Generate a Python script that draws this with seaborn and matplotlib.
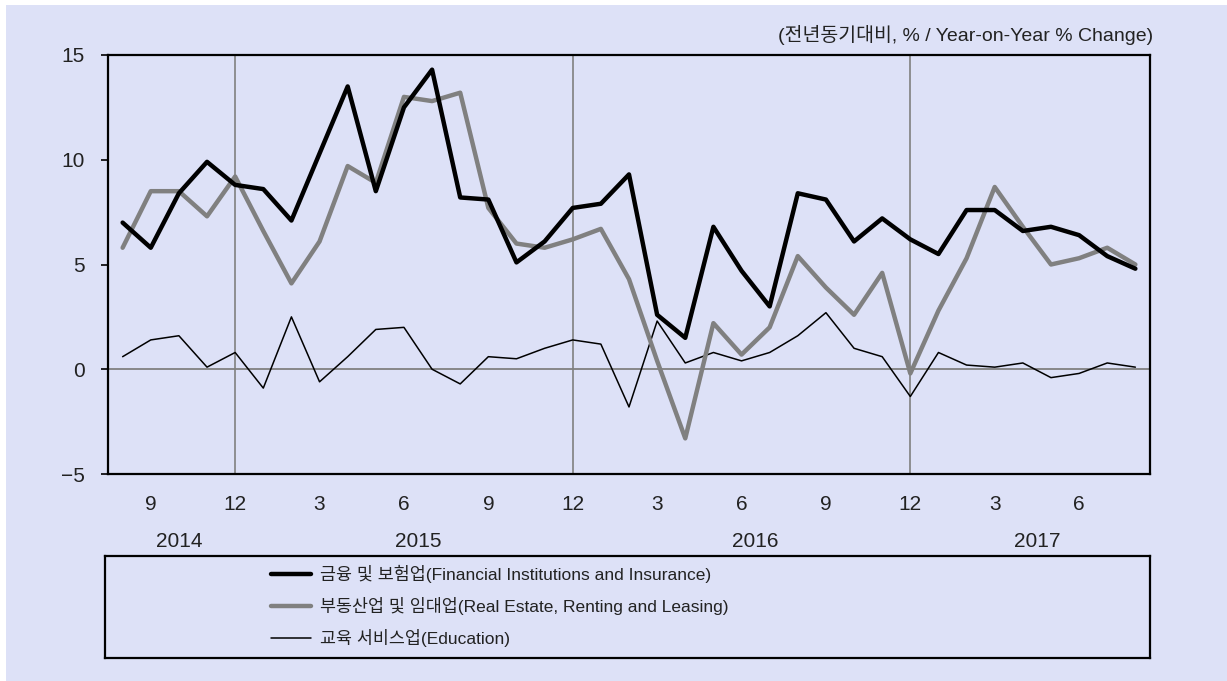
import numpy as np
import pandas as pd
import matplotlib
matplotlib.use("Agg")
import matplotlib.pyplot as plt
import seaborn as sns
from matplotlib.patches import Rectangle
import matplotlib.transforms as mtransforms

# monthly, Aug 2014 .. Aug 2017
months = pd.period_range("2014-08", "2017-08", freq="M")

finance = [7.0, 5.8, 8.4, 9.9, 8.8, 8.6, 7.1, 10.3, 13.5, 8.5, 12.5, 14.3, 8.2,
           8.1, 5.1, 6.1, 7.7, 7.9, 9.3, 2.6, 1.5, 6.8, 4.7, 3.0, 8.4, 8.1,
           6.1, 7.2, 6.2, 5.5, 7.6, 7.6, 6.6, 6.8, 6.4, 5.4, 4.8]
real_estate = [5.8, 8.5, 8.5, 7.3, 9.2, 6.6, 4.1, 6.1, 9.7, 8.9, 13.0, 12.8, 13.2,
               7.7, 6.0, 5.8, 6.2, 6.7, 4.3, 0.4, -3.3, 2.2, 0.7, 2.0, 5.4, 3.9,
               2.6, 4.6, -0.2, 2.8, 5.3, 8.7, 6.8, 5.0, 5.3, 5.8, 5.0]
education = [0.6, 1.4, 1.6, 0.1, 0.8, -0.9, 2.5, -0.6, 0.6, 1.9, 2.0, 0.0, -0.7,
             0.6, 0.5, 1.0, 1.4, 1.2, -1.8, 2.3, 0.3, 0.8, 0.4, 0.8, 1.6, 2.7,
             1.0, 0.6, -1.3, 0.8, 0.2, 0.1, 0.3, -0.4, -0.2, 0.3, 0.1]

labels = ["금융 및 보험업(Financial Institutions and Insurance)",
          "부동산업 및 임대업(Real Estate, Renting and Leasing)",
          "교육 서비스업(Education)"]
unit_text = "(전년동기대비, % / Year-on-Year % Change)"
yticks = [-5, 0, 5, 10, 15]

df = pd.DataFrame({"pos": np.arange(len(months)),
                   "month": [p.month for p in months],
                   "year": [p.year for p in months],
                   "finance": finance,
                   "real_estate": real_estate,
                   "education": education})

sns.set_theme(style="white")
plt.rcParams["font.family"] = ["Liberation Sans", "Noto Sans CJK KR", "DejaVu Sans"]

bg = "#dde1f7"
W, H = 1227, 681
fig = plt.figure(figsize=(W / 100, H / 100), dpi=100, facecolor="white")
fig.patches.append(Rectangle((6 / W, 0), 1, 1 - 5 / H, transform=fig.transFigure,
                             facecolor=bg, edgecolor="none", zorder=-10))

ax = fig.add_axes([108 / W, 1 - 474 / H, (1150 - 108) / W, (474 - 55) / H])
ax.set_facecolor(bg)

# reference lines
ax.axhline(0, color="#808080", lw=1.3, zorder=1)
for p in df.loc[df["month"] == 12, "pos"]:
    ax.axvline(p, color="#808080", lw=1.2, zorder=1)

sns.lineplot(data=df, x="pos", y="finance", ax=ax, color="black", lw=3.2,
             label=labels[0], zorder=4)
sns.lineplot(data=df, x="pos", y="real_estate", ax=ax, color="#808080", lw=3.2,
             label=labels[1], zorder=3)
sns.lineplot(data=df, x="pos", y="education", ax=ax, color="black", lw=1.1,
             label=labels[2], zorder=2)

ax.set_xlim(-0.52, len(months) - 0.48)
ax.set_ylim(-5, 15)
ax.set_yticks(yticks)
tick_df = df[df["month"].isin([3, 6, 9, 12])]
ax.set_xticks(tick_df["pos"])
ax.set_xticklabels(tick_df["month"])
ax.tick_params(axis="x", length=0, pad=15, labelsize=15, colors="#222222")
ax.tick_params(axis="y", length=5, width=1.2, direction="out", left=True,
               pad=12, labelsize=15, colors="black", labelcolor="#222222")
ax.set_xlabel("")
ax.set_ylabel("")
for s in ax.spines.values():
    s.set_color("black")
    s.set_linewidth(1.6)

# year labels centred under each year's months
trans = mtransforms.blended_transform_factory(ax.transData, ax.transAxes)
for yr, g in df.groupby("year"):
    ax.text(g["pos"].mean(), -0.16, str(yr), transform=trans, ha="center",
            va="center", fontsize=15, color="#222222")

fig.text(1153 / W, 1 - 35 / H, unit_text, ha="right", va="center",
         fontsize=14, color="#222222")

handles, labs = ax.get_legend_handles_labels()
ax.get_legend().remove()

# legend box
lax = fig.add_axes([105 / W, 1 - 658 / H, (1150 - 105) / W, (658 - 556) / H])
lax.set_facecolor(bg)
lax.set_xticks([])
lax.set_yticks([])
for s in lax.spines.values():
    s.set_color("black")
    s.set_linewidth(1.6)
leg = fig.legend(handles, labs, loc="upper left",
                 bbox_to_anchor=(271 / W, 1 - 565 / H), frameon=False,
                 borderaxespad=0, borderpad=0, handlelength=2.3,
                 handletextpad=0.5, labelspacing=0.8,
                 prop={"family": ["Liberation Sans", "Noto Sans CJK KR",
                                  "DejaVu Sans"], "size": 12.5})
for t in leg.get_texts():
    t.set_color("#222222")

fig.savefig("out.png", dpi=100, facecolor=fig.get_facecolor())
